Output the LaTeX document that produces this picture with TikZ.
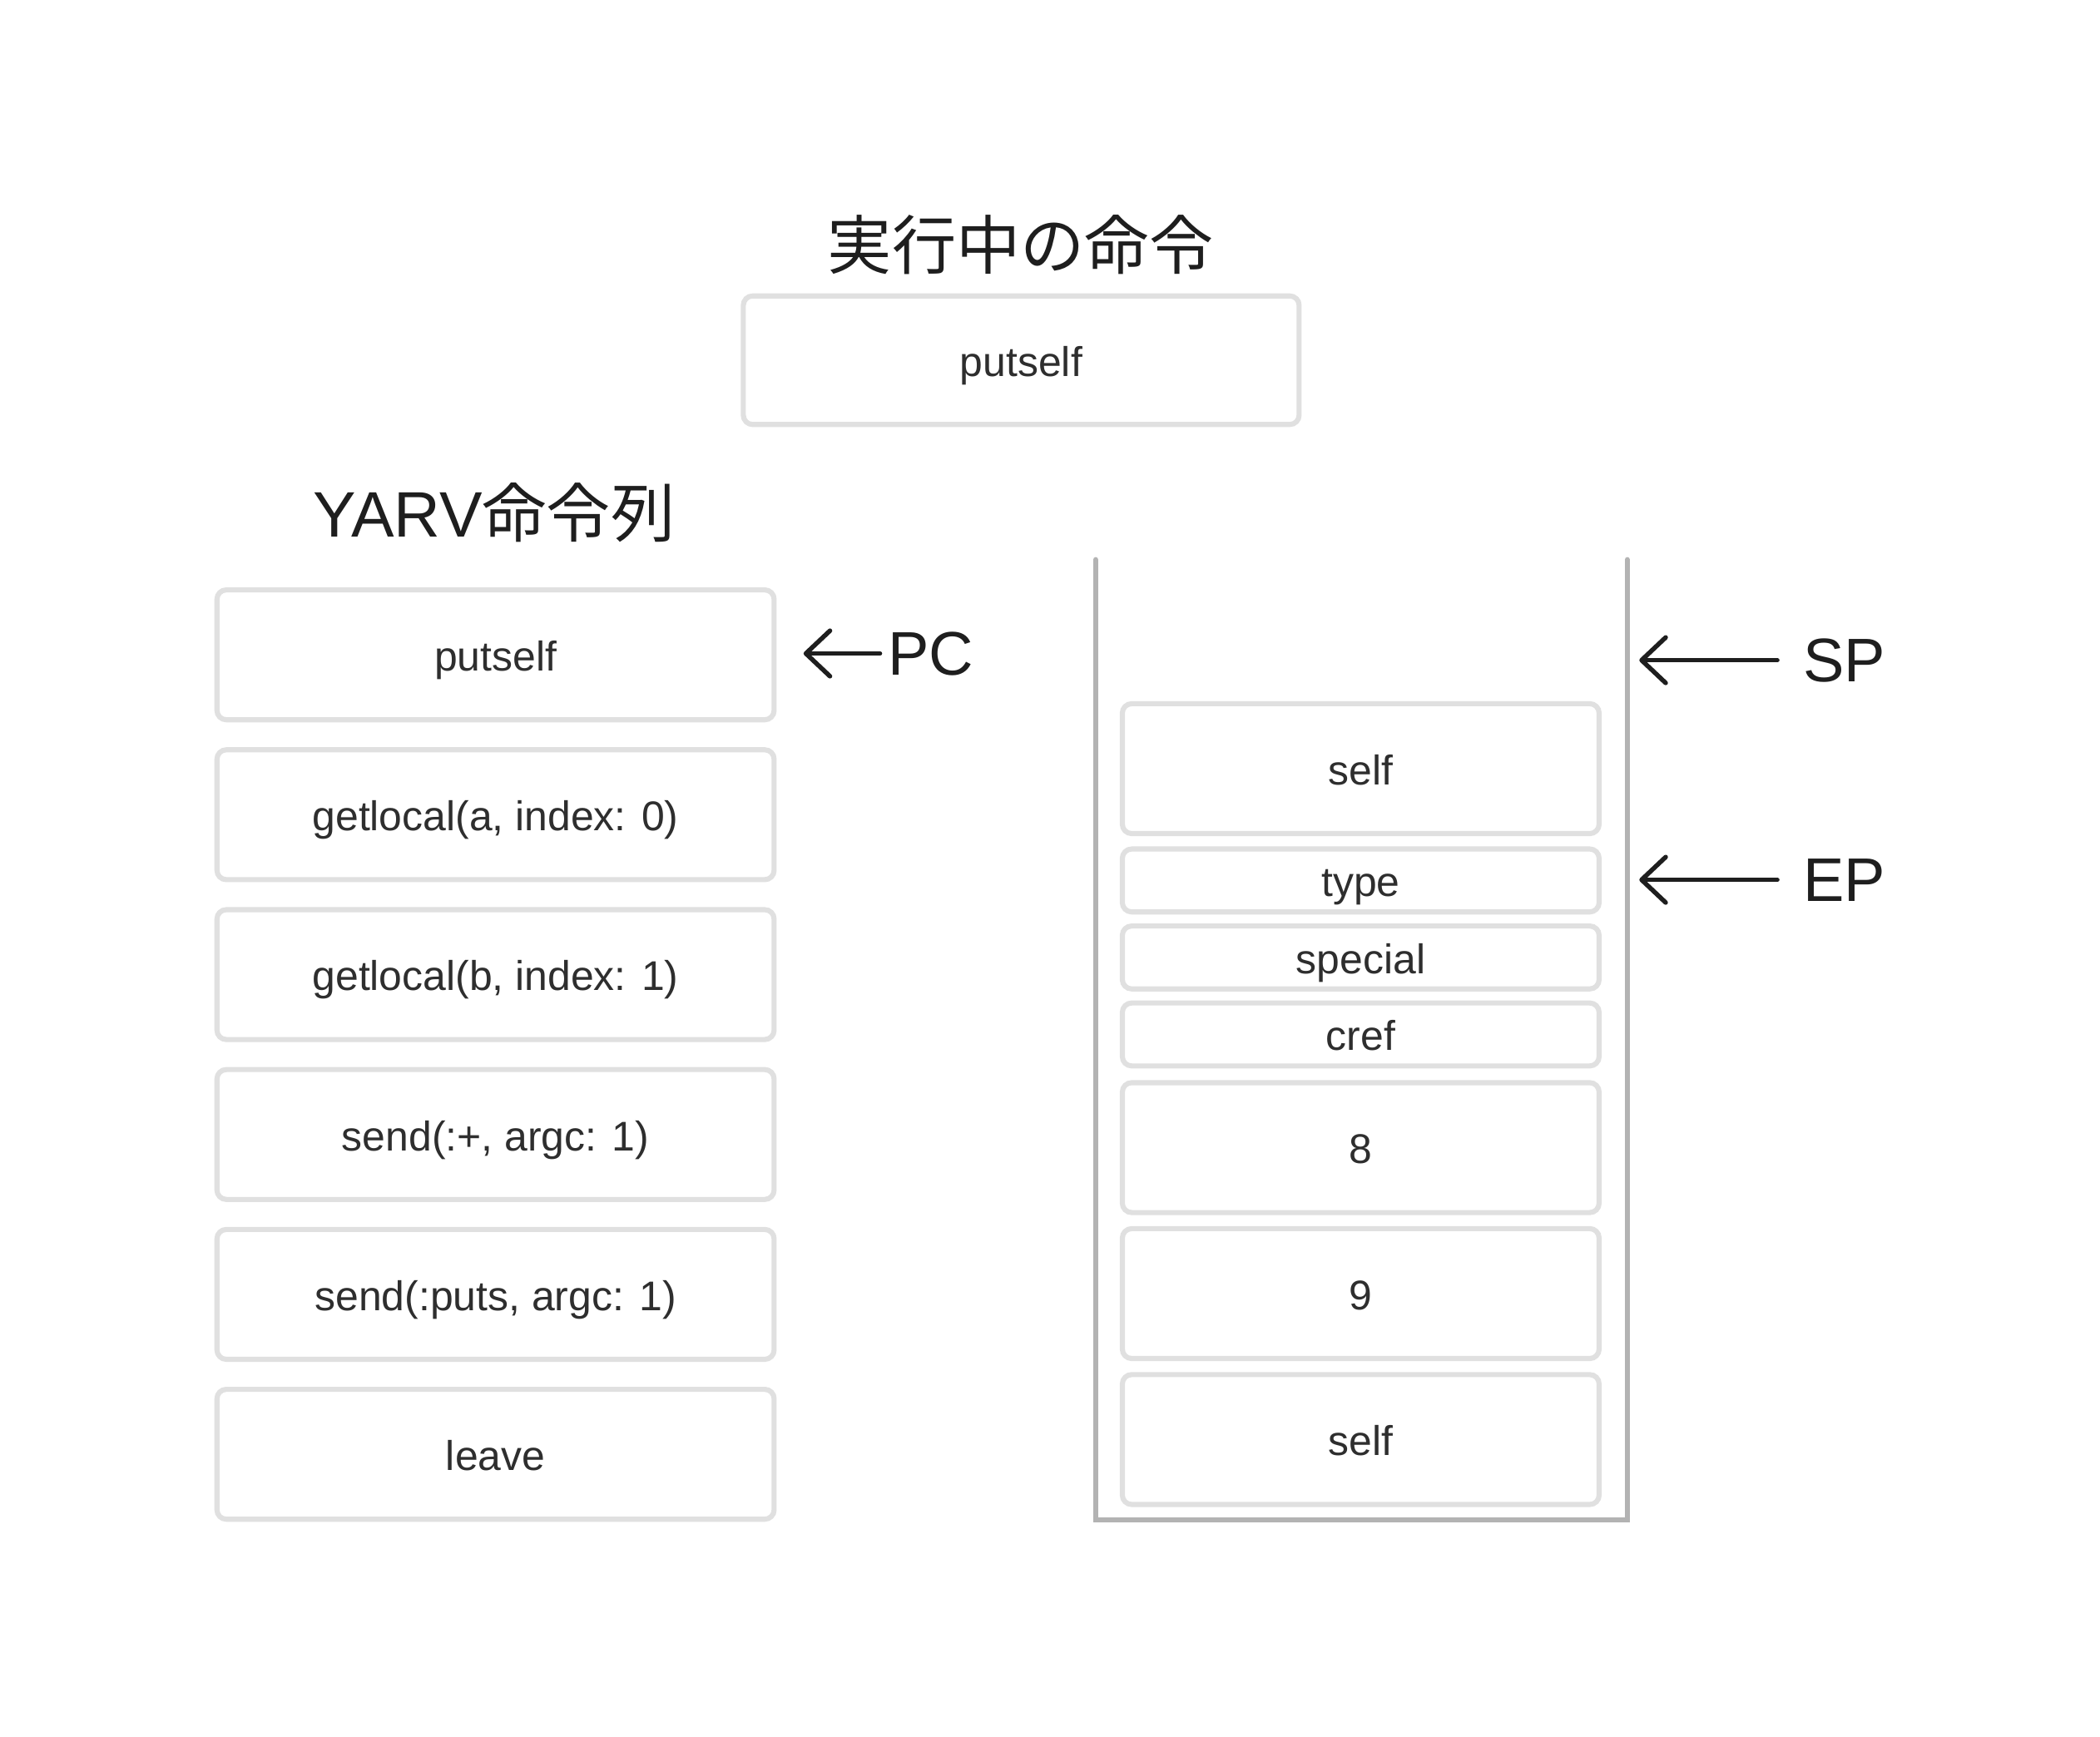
\documentclass[tikz,border=0pt]{standalone}
\usepackage{fontspec}
\setmainfont{Liberation Sans}
\newfontfamily\cjkfont{Noto Sans CJK JP}
\usetikzlibrary{arrows.meta}
\definecolor{boxline}{HTML}{E0E0E0}
\definecolor{stackline}{HTML}{B3B3B3}
\definecolor{ink}{HTML}{1E1E1E}
\definecolor{boxtext}{HTML}{2E2E2E}
\begin{document}
\begin{tikzpicture}[x=1pt,y=-1pt,
  cellbox/.style={draw=boxline,line width=3.8pt,rounded corners=7pt,inner sep=0pt,
    text=boxtext,font=\fontsize{31}{37}\selectfont,text height=30pt,text depth=6pt},
  instr/.style={cellbox,minimum width=416pt,minimum height=97pt},
  slot/.style={cellbox,minimum width=356pt,minimum height=97pt},
  slotsmall/.style={cellbox,minimum width=356pt,minimum height=47pt},
  ptr/.style={draw=ink,line width=3.4pt,line cap=round,
    -{Straight Barb[length=18pt,width=34pt,round]}},
  lbl/.style={text=ink,font=\fontsize{46}{55}\selectfont,inner sep=0pt},
  heading/.style={text=ink,font=\fontsize{48}{58}\selectfont,inner sep=0pt}]
\useasboundingbox (0,0) rectangle (1568,1297);
\fill[white] (0,0) rectangle (1568,1297);

% current instruction
\node[heading,anchor=base] (title) at (762,201) {\cjkfont 実行中の命令};
\node[instr,minimum width=415pt,minimum height=96pt] (cur) at (762.5,269) {putself};

% instruction sequence
\node[heading,anchor=base] (yarv) at (369,401) {YARV{\cjkfont 命令列}};
\node[instr] (i1) at (370,489) {putself};
\node[instr] (i2) at (370,608.4) {getlocal(a, index: 0)};
\node[instr] (i3) at (370,727.8) {getlocal(b, index: 1)};
\node[instr] (i4) at (370,847.2) {send(:+, argc: 1)};
\node[instr] (i5) at (370,966.6) {send(:puts, argc: 1)};
\node[instr] (i6) at (370,1086) {leave};

\node[lbl,anchor=west] (pc) at (663,488) {PC};
\coordinate (pctip) at (600,488);
\draw[ptr] ([xshift=-6pt]pc.west) -- (pctip);

% stack
\draw[stackline,line width=4pt,line cap=round,line join=miter]
  (818,418) -- (818,1135) -- (1215,1135) -- (1215,418);
\node[slot] (s1) at (1016,574) {self};
\node[slotsmall] (s2) at (1016,657.5) {type};
\node[slotsmall] (s3) at (1016,715) {special};
\node[slotsmall] (s4) at (1016,772.5) {cref};
\node[slot] (s5) at (1016,857) {8};
\node[slot] (s6) at (1016,966) {9};
\node[slot] (s7) at (1016,1075) {self};

\node[lbl,anchor=west] (sp) at (1346,493) {SP};
\coordinate (sptip) at (1224,493);
\draw[ptr] ([xshift=-19pt]sp.west) -- (sptip);

\node[lbl,anchor=west] (ep) at (1346,657) {EP};
\coordinate (eptip) at (1224,657);
\draw[ptr] ([xshift=-19pt]ep.west) -- (eptip);
\end{tikzpicture}
\end{document}
